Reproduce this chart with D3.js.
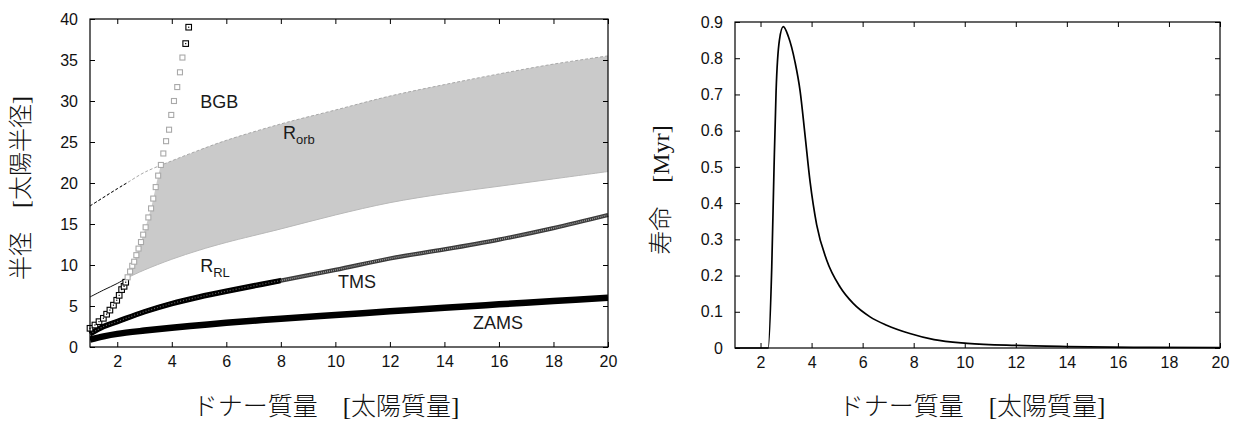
<!DOCTYPE html>
<html>
<head>
<meta charset="utf-8">
<script src="https://cdn.jsdelivr.net/npm/d3@7"></script>
<style>
  body { margin: 0; background: #fff; }
  svg { display: block; }
  .tick text { font-family: "Liberation Sans", Arial, sans-serif; font-size: 16px; fill: #111; }
  .tick line { stroke: #000; stroke-width: 1; }
  .jp { font-family: "Noto Sans CJK JP", sans-serif; font-weight: 300; fill: #111; }
  .lbl { font-family: "Liberation Sans", Arial, sans-serif; fill: #1a1a1a; }
</style>
</head>
<body>
<svg id="chart" width="1239" height="435"></svg>
<script>
// ---- data ----
const massTicks = [2, 4, 6, 8, 10, 12, 14, 16, 18, 20]
const radiusTicks = [0, 5, 10, 15, 20, 25, 30, 35, 40]
const lifeTicks = [0, 0.1, 0.2, 0.3, 0.4, 0.5, 0.6, 0.7, 0.8, 0.9]

// ZAMS radius
const zamsMass = [1, 1.5, 2, 3, 4, 5, 6, 8, 10, 12, 14, 16, 18, 20]
const zamsRadius = [0.9, 1.3, 1.6, 2.0, 2.35, 2.65, 2.95, 3.45, 3.9, 4.35, 4.8, 5.2, 5.6, 6.0]

// TMS radius
const tmsMass = [1, 1.5, 2, 3, 4, 5, 6, 8, 10, 12, 14, 16, 18, 20]
const tmsRadius = [1.6, 2.5, 3.1, 4.3, 5.3, 6.1, 6.8, 8.1, 9.4, 10.8, 11.9, 13.1, 14.5, 16.1]

// Roche lobe radius (lower edge of band)
const rlMass = [1, 1.5, 2, 2.35, 3, 4, 5, 6, 8, 10, 12, 14, 16, 18, 20]
const rlRadius = [6.1, 6.95, 7.75, 8.4, 9.4, 10.7, 11.8, 12.75, 14.4, 16.1, 17.6, 18.7, 19.6, 20.5, 21.4]

// orbital radius (upper edge of band)
const orbMass = [1, 2, 2.35, 3, 4, 5, 6, 8, 10, 12, 14, 16, 18, 20]
const orbRadius = [17.2, 19.3, 20.0, 21.3, 22.7, 24.0, 25.2, 27.2, 28.9, 30.6, 32.0, 33.3, 34.5, 35.5]

// BGB radius (squares)
const bgbMass = [1.0, 1.18, 1.33, 1.49, 1.61, 1.73, 1.86, 1.98, 2.07, 2.16, 2.25, 2.31, 2.38, 2.47, 2.55, 2.62, 2.70, 2.78, 2.87, 2.95, 3.04, 3.14, 3.24, 3.32, 3.41, 3.50, 3.60, 3.69, 3.79, 3.90, 3.98, 4.08, 4.20, 4.30, 4.39, 4.51, 4.62]
const bgbRadius = [2.28, 2.68, 3.09, 3.5, 4.0, 4.5, 5.1, 5.7, 6.3, 7.0, 7.4, 7.9, 8.5, 9.2, 9.9, 10.4, 11.2, 12.0, 12.8, 13.7, 14.6, 15.8, 16.9, 18.1, 19.5, 20.9, 22.2, 23.6, 25.1, 26.5, 28.3, 30.0, 31.7, 33.5, 35.3, 37.0, 39.0]

// lifetime (right panel)
const lifeMass = [1, 2.3, 2.44, 2.53, 2.61, 2.74, 2.89, 3.09, 3.35, 3.55, 3.74, 3.94, 4.2, 4.59, 5.11, 5.63, 6.29, 6.94, 7.85, 8.8, 10.1, 12, 14, 16.6, 20]
const lifeMyr = [0, 0, 0.224, 0.50, 0.71, 0.85, 0.887, 0.86, 0.79, 0.71, 0.59, 0.46, 0.34, 0.243, 0.169, 0.123, 0.086, 0.063, 0.040, 0.023, 0.013, 0.007, 0.004, 0.002, 0.001]

const svg = d3.select('#chart')
const zip = (a, b) => a.map((v, i) => [v, b[i]])

// ---------------- left panel ----------------
const L = {left: 90, right: 608, top: 19, bottom: 347}
const xL = d3.scaleLinear().domain([1, 20]).range([L.left, L.right])
const yL = d3.scaleLinear().domain([0, 40]).range([L.bottom, L.top])

const gL = svg.append('g')
const defs = svg.append('defs')

defs.append('clipPath').attr('id', 'plotL')
  .append('rect').attr('x', L.left).attr('y', L.top)
  .attr('width', L.right - L.left).attr('height', L.bottom - L.top)

// region to the right of the BGB curve
const bgbPts = zip(bgbMass, bgbRadius)
const clipPts = bgbPts.map(d => [xL(d[0]), yL(d[1])])
const last = bgbPts[bgbPts.length - 1]
clipPts.push([xL(last[0]), yL(45)], [xL(21), yL(45)], [xL(21), yL(-5)], [xL(bgbPts[0][0]), yL(-5)])
defs.append('clipPath').attr('id', 'rightOfBgb')
  .append('path').attr('d', 'M' + clipPts.join('L') + 'Z')

defs.append('clipPath').attr('id', 'leftPart')
  .append('rect').attr('x', L.left).attr('y', L.top)
  .attr('width', xL(2.35) - L.left).attr('height', L.bottom - L.top)
defs.append('clipPath').attr('id', 'rightPart')
  .append('rect').attr('x', xL(2.35)).attr('y', L.top)
  .attr('width', L.right - xL(2.35)).attr('height', L.bottom - L.top)
defs.append('clipPath').attr('id', 'tmsLeft')
  .append('rect').attr('x', L.left - 10).attr('y', L.top)
  .attr('width', xL(8) - L.left + 10).attr('height', L.bottom - L.top + 10)

const lineL = d3.line().x(d => xL(d[0])).y(d => yL(d[1])).curve(d3.curveCatmullRom.alpha(0.5))

const rlPts = zip(rlMass, rlRadius)
const orbPts = zip(orbMass, orbRadius)

// gray band between R_RL and R_orb
const upperRev = lineL(orbPts.slice().reverse())
gL.append('path')
  .attr('d', lineL(rlPts) + 'L' + upperRev.substring(1) + 'Z')
  .attr('fill', '#cacaca')
  .attr('clip-path', 'url(#rightOfBgb)')

// upper edge: gray dashes, black dashes on the far left
gL.append('path').attr('d', lineL(orbPts))
  .attr('fill', 'none').attr('stroke', '#a8a8a8').attr('stroke-width', 1)
  .attr('stroke-dasharray', '3,2')
gL.append('path').attr('d', lineL(orbPts)).attr('clip-path', 'url(#leftPart)')
  .attr('fill', 'none').attr('stroke', '#111').attr('stroke-width', 1)
  .attr('stroke-dasharray', '3,2')

// lower edge: thin black on the left, light edge under the band
gL.append('path').attr('d', lineL(rlPts)).attr('clip-path', 'url(#leftPart)')
  .attr('fill', 'none').attr('stroke', '#111').attr('stroke-width', 1)
gL.append('path').attr('d', lineL(rlPts)).attr('clip-path', 'url(#rightPart)')
  .attr('fill', 'none').attr('stroke', '#b8b8b8').attr('stroke-width', 1)

// ZAMS
gL.append('path').attr('d', lineL(zip(zamsMass, zamsRadius)))
  .attr('clip-path', 'url(#plotL)')
  .attr('fill', 'none').attr('stroke', '#000').attr('stroke-width', 6.5)

// TMS (dense cross markers)
const tmsPath = lineL(zip(tmsMass, tmsRadius))
gL.append('path').attr('d', tmsPath)
  .attr('fill', 'none').attr('stroke', '#3a3a3a').attr('stroke-width', 4.2)
gL.append('path').attr('d', tmsPath)
  .attr('fill', 'none').attr('stroke', '#9a9a9a').attr('stroke-width', 1.6)
  .attr('stroke-dasharray', '1,1')
gL.append('path').attr('d', tmsPath).attr('clip-path', 'url(#tmsLeft)')
  .attr('fill', 'none').attr('stroke', '#000').attr('stroke-width', 5.5)
gL.append('path').attr('d', tmsPath).attr('clip-path', 'url(#tmsLeft)')
  .attr('fill', 'none').attr('stroke', '#666').attr('stroke-width', 1.2)
  .attr('stroke-dasharray', '1,2')

// BGB squares
const isDark = d => d[1] < 8.2 || d[1] > 36
gL.selectAll('rect.bgb').data(bgbPts).enter().append('rect')
  .attr('class', 'bgb')
  .attr('x', d => xL(d[0]) - (isDark(d) ? 2.8 : 2.5))
  .attr('y', d => yL(d[1]) - (isDark(d) ? 2.8 : 2.5))
  .attr('width', d => isDark(d) ? 5.6 : 5)
  .attr('height', d => isDark(d) ? 5.6 : 5)
  .attr('fill', '#fff')
  .attr('stroke', d => isDark(d) ? '#000' : '#a9a9a9')
  .attr('stroke-width', 1.1)
gL.selectAll('rect.dot').data(bgbPts.filter(isDark)).enter().append('rect')
  .attr('class', 'dot')
  .attr('x', d => xL(d[0]) - 0.6).attr('y', d => yL(d[1]) - 0.6)
  .attr('width', 1.2).attr('height', 1.2).attr('fill', '#000')

// curve labels
const lab = (x, y, txt, sub, color) => {
  const t = gL.append('text').attr('class', 'lbl')
    .attr('x', xL(x)).attr('y', yL(y)).attr('font-size', 18).attr('fill', color)
  t.append('tspan').text(txt)
  if (sub) t.append('tspan').attr('dy', 5).attr('font-size', 13).text(sub)
}
lab(5.04, 29.1, 'BGB', null, '#1a1a1a')
lab(8.08, 25.4, 'R', 'orb', '#3a3a3a')
lab(5.04, 9.15, 'R', 'RL', '#1a1a1a')
lab(10.1, 7.2, 'TMS', null, '#111')
lab(15.05, 2.2, 'ZAMS', null, '#111')

// axes (inward ticks, mirrored)
const axisGroup = (g, axis) => { g.call(axis); g.select('.domain').remove() }
axisGroup(gL.append('g').attr('transform', `translate(0,${L.bottom})`),
  d3.axisBottom(xL).tickValues(massTicks).tickSize(-5).tickPadding(9))
axisGroup(gL.append('g').attr('transform', `translate(0,${L.top})`),
  d3.axisTop(xL).tickValues(massTicks).tickSize(-5).tickFormat(''))
axisGroup(gL.append('g').attr('transform', `translate(${L.left},0)`),
  d3.axisLeft(yL).tickValues(radiusTicks).tickSize(-5).tickPadding(12))
axisGroup(gL.append('g').attr('transform', `translate(${L.right},0)`),
  d3.axisRight(yL).tickValues(radiusTicks).tickSize(-5).tickFormat(''))
gL.append('rect').attr('x', L.left).attr('y', L.top)
  .attr('width', L.right - L.left).attr('height', L.bottom - L.top)
  .attr('fill', 'none').attr('stroke', '#000').attr('stroke-width', 1.2)

// ---------------- right panel ----------------
const R = {left: 735, right: 1220, top: 22, bottom: 348}
const xR = d3.scaleLinear().domain([1, 20]).range([R.left, R.right])
const yR = d3.scaleLinear().domain([0, 0.9]).range([R.bottom, R.top])
const gR = svg.append('g')

gR.append('path')
  .attr('d', d3.line().x(d => xR(d[0])).y(d => yR(d[1])).curve(d3.curveMonotoneX)(zip(lifeMass, lifeMyr)))
  .attr('fill', 'none').attr('stroke', '#000').attr('stroke-width', 1.7)

axisGroup(gR.append('g').attr('transform', `translate(0,${R.bottom})`),
  d3.axisBottom(xR).tickValues(massTicks).tickSize(-5).tickPadding(9))
axisGroup(gR.append('g').attr('transform', `translate(0,${R.top})`),
  d3.axisTop(xR).tickValues(massTicks).tickSize(-5).tickFormat(''))
axisGroup(gR.append('g').attr('transform', `translate(${R.left},0)`),
  d3.axisLeft(yR).tickValues(lifeTicks).tickSize(-5).tickPadding(12).tickFormat(d => d === 0 ? '0' : d3.format('.1f')(d)))
axisGroup(gR.append('g').attr('transform', `translate(${R.right},0)`),
  d3.axisRight(yR).tickValues(lifeTicks).tickSize(-5).tickFormat(''))
gR.append('rect').attr('x', R.left).attr('y', R.top)
  .attr('width', R.right - R.left).attr('height', R.bottom - R.top)
  .attr('fill', 'none').attr('stroke', '#000').attr('stroke-width', 1.2)

// ---------------- axis titles ----------------
const xTitle = (cx) => {
  const t = svg.append('text').attr('class', 'jp').attr('x', cx).attr('y', 415)
    .attr('text-anchor', 'middle').attr('font-size', 25)
  t.append('tspan').text('ドナー質量　')
  t.append('tspan').attr('font-family', '"Liberation Serif", serif').text('[')
  t.append('tspan').text('太陽質量')
  t.append('tspan').attr('font-family', '"Liberation Serif", serif').text(']')
}
xTitle(326)
xTitle(972)

const yt1 = svg.append('text').attr('class', 'jp')
  .attr('transform', 'translate(29,188) rotate(-90)')
  .attr('text-anchor', 'middle').attr('font-size', 24)
yt1.append('tspan').text('半径　')
yt1.append('tspan').attr('font-family', '"Liberation Serif", serif').text('[')
yt1.append('tspan').text('太陽半径')
yt1.append('tspan').attr('font-family', '"Liberation Serif", serif').text(']')

const yt2 = svg.append('text').attr('class', 'jp')
  .attr('transform', 'translate(669,190) rotate(-90)')
  .attr('text-anchor', 'middle').attr('font-size', 24)
yt2.append('tspan').text('寿命　')
yt2.append('tspan').attr('font-family', '"Liberation Serif", serif').text('[Myr]')
</script>
</body>
</html>
